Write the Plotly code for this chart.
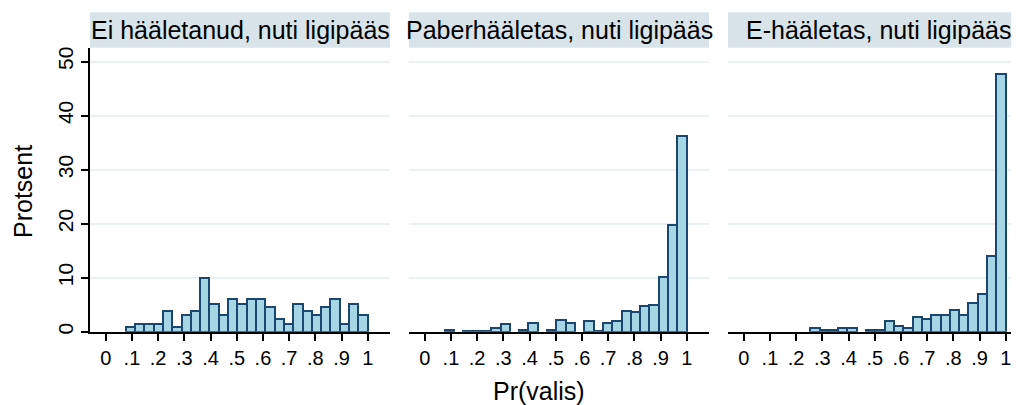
import plotly.graph_objects as go

# ---- data (percent per bin), 26 equal bins from bin_lo to bin_hi ----
bin_lo = 0.0763
bin_hi = 1.0
panel_titles = ["Ei hääletanud, nuti ligipääs", "Paberhääletas, nuti ligipääs", "E-hääletas, nuti ligipääs"]

ei_haaletanud = [0.8, 1.5, 1.5, 1.5, 3.8, 0.8, 3.0, 3.8, 10.0, 5.2, 3.0, 6.1, 5.2,
                 6.1, 6.1, 4.6, 2.3, 1.5, 5.2, 3.8, 3.0, 4.6, 6.1, 1.5, 5.2, 3.0]
paberhaaletas = [0.3, 0.0, 0.2, 0.2, 0.2, 0.6, 1.4, 0.0, 0.4, 1.6, 0.0, 0.4, 2.1,
                 1.7, 0.0, 2.0, 0.1, 1.6, 2.0, 3.9, 3.6, 4.7, 4.9, 10.1, 19.7, 36.3]
e_haaletas = [0.0, 0.0, 0.0, 0.0, 0.0, 0.75, 0.3, 0.3, 0.7, 0.7, 0.0, 0.3, 0.3,
              2.0, 1.1, 0.7, 2.8, 2.4, 3.0, 3.0, 4.1, 3.0, 5.4, 6.9, 14.0, 47.7]

x_tickvals = [0, 0.1, 0.2, 0.3, 0.4, 0.5, 0.6, 0.7, 0.8, 0.9, 1.0]
x_ticktext = ["0", ".1", ".2", ".3", ".4", ".5", ".6", ".7", ".8", ".9", "1"]
y_tickvals = [0, 10, 20, 30, 40, 50]
y_ticktext = ["0", "10", "20", "30", "40", "50"]

series = [ei_haaletanud, paberhaaletas, e_haaletas]

# ---- layout geometry (screen pixels; page body has an 8px margin) ----
OFF = 8
SW, SH = 1019, 405
W, H = SW - OFF, SH - OFF
px_per_unit = 262.0
x_left = -0.06
panel_left = [90, 409, 728]
panel_w = 300
plot_top, plot_bot = 48, 331.7
strip_top, strip_bot = 12.3, 47.7


def fx(sx):
    return (sx - OFF) / W


def fy(sy):
    return (H - (sy - OFF)) / H


FONT = "Liberation Sans, Arial, Helvetica, sans-serif"
FILL = "#a6d5e5"
EDGE = "#1a476f"
GRID = "#e9f1f3"
STRIP = "#d9e4ea"

nb = len(ei_haaletanud)
bw = (bin_hi - bin_lo) / nb
centers = [bin_lo + bw * (i + 0.5) for i in range(nb)]

fig = go.Figure()
for k, vals in enumerate(series):
    sfx = "" if k == 0 else str(k + 1)
    lw = [0 if v == 0 else 2 for v in vals]
    fig.add_trace(go.Bar(
        x=centers, y=vals, width=[bw] * nb,
        marker=dict(color=FILL, line=dict(color=EDGE, width=lw)),
        xaxis="x" + sfx, yaxis="y" + sfx, showlegend=False,
    ))

layout = dict(
    width=W, height=H, margin=dict(l=0, r=0, t=0, b=0, autoexpand=False),
    paper_bgcolor="white", plot_bgcolor="white",
    font=dict(family=FONT, color="black", size=20),
    bargap=0, showlegend=False,
)
ydom = [fy(plot_bot), fy(plot_top)]
shapes = []
annotations = []
for k in range(3):
    sfx = "" if k == 0 else str(k + 1)
    x0 = panel_left[k]
    x1 = min(x0 + panel_w, SW)
    xr = [x_left, x_left + (x1 - x0) / px_per_unit]
    layout["xaxis" + sfx] = dict(
        domain=[fx(x0), min(fx(x1), 1.0)], range=xr, anchor="y" + sfx, automargin=False,
        tickvals=x_tickvals, ticktext=x_ticktext, ticks="outside", ticklen=7,
        tickwidth=2, tickcolor="black", showline=True, linecolor="black",
        linewidth=2, showgrid=False, zeroline=False,
        tickfont=dict(size=20, family=FONT, color="black"), fixedrange=True,
    )
    ya = dict(
        domain=ydom, range=[0, 52.5], anchor="x" + sfx, automargin=False,
        tickvals=y_tickvals, showgrid=True, gridcolor=GRID, gridwidth=2,
        zeroline=False, fixedrange=True,
    )
    if k == 0:
        ya.update(ticktext=y_ticktext, ticks="outside", ticklen=7, tickwidth=2,
                  tickcolor="black", showline=True, linecolor="black", linewidth=2,
                  tickangle=-90, tickfont=dict(size=21, family=FONT, color="black"))
    else:
        ya.update(showticklabels=False, showline=False, ticks="")
    layout["yaxis" + sfx] = ya

    sx0 = panel_left[k]
    sx1 = panel_left[k] + panel_w
    shapes.append(dict(type="rect", xref="paper", yref="paper",
                       x0=fx(sx0), x1=fx(sx1), y0=fy(strip_bot), y1=fy(strip_top),
                       fillcolor=STRIP, line=dict(width=0), layer="below"))
    annotations.append(dict(text=panel_titles[k], xref="paper", yref="paper",
                            x=fx((sx0 + sx1) / 2), y=fy((strip_top + strip_bot) / 2),
                            xanchor="center", yanchor="middle", showarrow=False,
                            font=dict(size=25, family=FONT, color="black")))

annotations.append(dict(text="Pr(valis)", xref="paper", yref="paper",
                        x=fx(539), y=fy(391), xanchor="center", yanchor="middle",
                        showarrow=False, font=dict(size=25, family=FONT, color="black")))
annotations.append(dict(text="Protsent", xref="paper", yref="paper",
                        x=fx(23), y=fy(192), xanchor="center", yanchor="middle",
                        textangle=-90, showarrow=False,
                        font=dict(size=25, family=FONT, color="black")))
layout["shapes"] = shapes
layout["annotations"] = annotations
fig.update_layout(**layout)
fig.write_html("out.html")
